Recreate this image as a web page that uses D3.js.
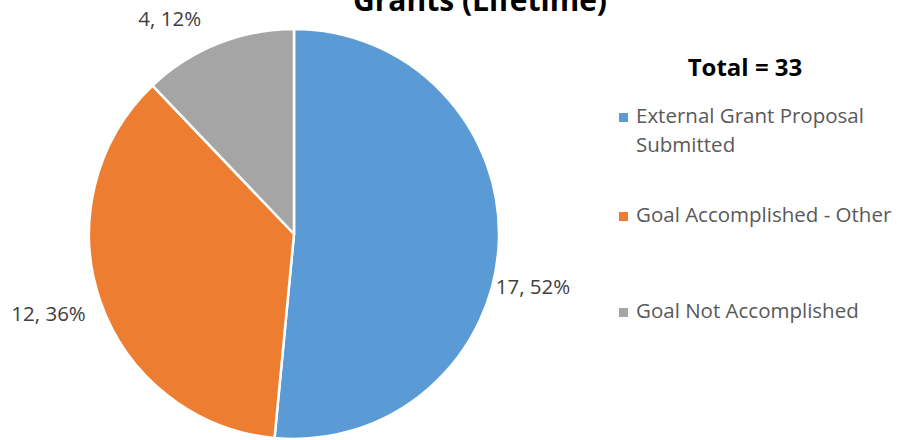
<!DOCTYPE html>
<html><head><meta charset="utf-8">
<script src="https://cdn.jsdelivr.net/npm/d3@7"></script>
<style>body{margin:0;background:#fff}svg{display:block}</style>
</head><body>
<svg id="c" width="897" height="440"></svg>
<script>
const categories = ["External Grant Proposal Submitted", "Goal Accomplished - Other", "Goal Not Accomplished"];
const legendLines = [["External Grant Proposal", "Submitted"], ["Goal Accomplished - Other"], ["Goal Not Accomplished"]];
const values = [17, 12, 4];
const colors = ["#5B9BD5", "#ED7D31", "#A5A5A5"];
const title = "Grants (Lifetime)";
const totalLabel = "Total = " + d3.sum(values);

const svg = d3.select("#c");
const font = "'Open Sans', 'Noto Sans', sans-serif";
const cx = 294, cy = 234, R = 205;
const total = d3.sum(values);

svg.append("text").attr("x", 480).attr("y", 11).attr("text-anchor", "middle")
  .attr("font-family", font).attr("font-weight", "bold").attr("font-size", 30).attr("fill", "#000").text(title);

const pie = d3.pie().sort(null).value(d => d);
const arcs = pie(values);
const arc = d3.arc().innerRadius(0).outerRadius(R);
const g = svg.append("g").attr("transform", `translate(${cx},${cy})`);
g.selectAll("path").data(arcs).join("path")
  .attr("d", arc).attr("fill", (d, i) => colors[i])
  .attr("stroke", "#fff").attr("stroke-width", 2.5).attr("stroke-linejoin", "round");

// labels (outside end)
const labelArc = d3.arc().innerRadius(R + 10).outerRadius(R + 10);
const nudge = [[-13, 43], [-5, 9], [-13, -16]];
g.selectAll("text.lbl").data(arcs).join("text").attr("class", "lbl")
  .attr("transform", (d, i) => { const c = labelArc.centroid(d); return `translate(${c[0] + nudge[i][0]},${c[1] + nudge[i][1]})`; })
  .attr("text-anchor", d => ((d.startAngle + d.endAngle) / 2 < Math.PI ? "start" : "end"))
  .attr("dy", "0.35em")
  .attr("font-family", font).attr("font-size", 20.5).attr("fill", "#404040")
  .text(d => `${d.data}, ${Math.round(d.data / total * 100)}%`);

// legend
svg.append("text").attr("x", 745).attr("y", 76).attr("text-anchor", "middle")
  .attr("font-family", font).attr("font-weight", "bold").attr("font-size", 24).attr("fill", "#000").text(totalLabel);
const legYs = [123, 222, 318];
const lg = svg.append("g");
categories.forEach((c, i) => {
  const y = legYs[i];
  lg.append("rect").attr("x", 619).attr("y", y - 10).attr("width", 9).attr("height", 9).attr("fill", colors[i]);
  legendLines[i].forEach((t, j) => {
    lg.append("text").attr("x", 636).attr("y", y + j * 29)
      .attr("font-family", font).attr("font-size", 20.5).attr("fill", "#595959").text(t);
  });
});
</script>
</body></html>
